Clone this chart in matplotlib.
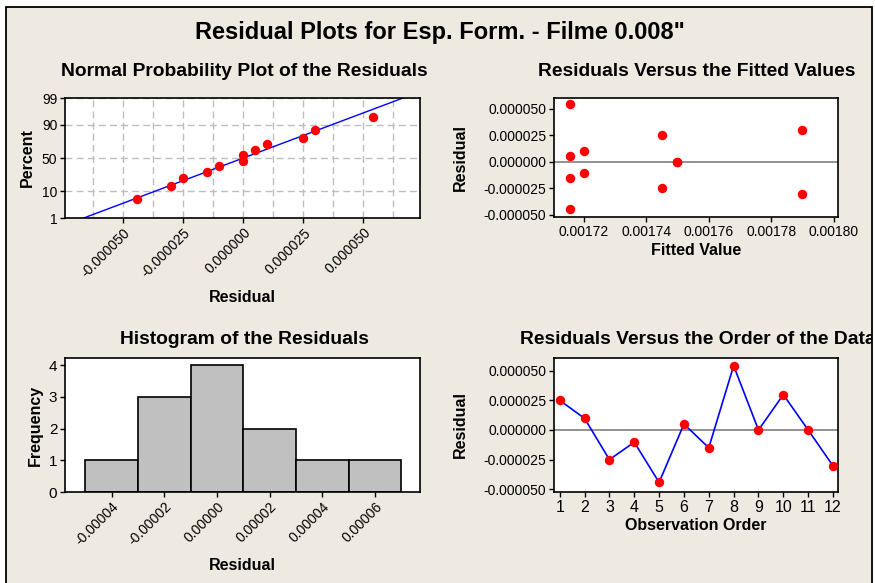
import matplotlib
matplotlib.use("Agg")
import matplotlib.pyplot as plt
import matplotlib.patches as mpatches
from matplotlib.ticker import FormatStrFormatter, MultipleLocator, FixedLocator
from statistics import NormalDist
import numpy as np

plt.rcParams['font.family'] = ['Liberation Sans', 'DejaVu Sans']
plt.rcParams['axes.unicode_minus'] = False

# residuals in observation order
obs_order = [1, 2, 3, 4, 5, 6, 7, 8, 9, 10, 11, 12]
residuals = [0.0000250, 0.0000098, -0.0000250, -0.0000103, -0.0000442, 0.0000050,
             -0.0000150, 0.0000542, 0.0, 0.0000298, 0.0, -0.0000303]
fitted = [0.001745, 0.00172, 0.001745, 0.00172, 0.0017155, 0.0017155,
          0.0017155, 0.0017155, 0.00175, 0.00179, 0.00175, 0.00179]

# normal probability plot
npp_resid = sorted(residuals)
npp_pct = [5.6, 13.7, 21.8, 29.8, 37.9, 46.0, 54.0, 62.1, 70.2, 78.2, 86.3, 94.4]
fit_line_x = [-0.0000665, 0.0000665]
fit_line_pct = [1, 99]
npp_yticks = [1, 10, 50, 90, 99]

# histogram
hist_centers = [-0.00004, -0.00002, 0.0, 0.00002, 0.00004, 0.00006]
hist_counts = [1, 3, 4, 2, 1, 1]
hist_width = 0.00002

W, H = 875, 583
BG = '#EEEAE1'
fig = plt.figure(figsize=(W / 100, H / 100), dpi=100, facecolor='white')

frame = mpatches.Rectangle((6 / W, -0.05), (872 - 6) / W, (H - 7) / H + 0.05,
                           transform=fig.transFigure, facecolor=BG,
                           edgecolor='black', linewidth=1.3, zorder=-10)
fig.patches.append(frame)


def px_axes(x0, x1, y0, y1):
    return fig.add_axes([x0 / W, (H - y1) / H, (x1 - x0) / W, (y1 - y0) / H])


def style(ax):
    for s in ax.spines.values():
        s.set_linewidth(1.2)
    ax.tick_params(direction='out', length=3.5, width=1, labelsize=10, pad=2)


def title(text, xc, yc):
    t = fig.text(xc / W, 1 - yc / H, text, ha='center', va='center',
                 fontsize=13.9, fontweight='bold')
    t.set_clip_path(frame)


def labels(ax, xl, xl_y, yl, yl_x):
    ax.set_xlabel(xl, fontsize=11.5, fontweight='bold')
    ax.set_ylabel(yl, fontsize=11.5, fontweight='bold')
    bb = ax.get_position()
    ax.xaxis.set_label_coords(0.5, ((H - xl_y) / H - bb.y0) / bb.height)
    ax.xaxis.label.set_va('center')
    ax.yaxis.set_label_coords((yl_x / W - bb.x0) / bb.width, 0.5)
    ax.yaxis.label.set_va('center')


nd = NormalDist()
fwd = np.vectorize(lambda p: nd.inv_cdf(min(max(p / 100.0, 1e-9), 1 - 1e-9)), otypes=[float])
inv = np.vectorize(lambda z: nd.cdf(z) * 100.0, otypes=[float])

# --- Normal probability plot
ax1 = px_axes(65, 420, 98, 218)
style(ax1)
ax1.set_yscale('function', functions=(fwd, inv))
ax1.set_ylim(1, 99)
ax1.set_xlim(-0.0000743, 0.0000736)
ax1.yaxis.set_major_locator(FixedLocator(npp_yticks))
ax1.set_yticklabels([str(v) for v in npp_yticks])
ax1.xaxis.set_major_locator(MultipleLocator(0.000025))
ax1.xaxis.set_minor_locator(MultipleLocator(0.0000125))
ax1.xaxis.set_major_formatter(FormatStrFormatter('%.6f'))
ax1.tick_params(axis='x', which='minor', length=0)
ax1.grid(True, which='both', axis='x', color='#BEBEBE', linestyle=(0, (5, 3)), linewidth=1)
ax1.grid(True, which='major', axis='y', color='#BEBEBE', linestyle=(0, (5, 3)), linewidth=1)
ax1.set_axisbelow(True)
for lab in ax1.get_xticklabels():
    lab.set_rotation(45)
    lab.set_ha('right')
    lab.set_va('top')
    lab.set_rotation_mode('anchor')
ax1.plot(fit_line_x, fit_line_pct, color='blue', linewidth=1)
ax1.plot(npp_resid, npp_pct, 'o', color='red', markersize=6.8, markeredgewidth=0)
labels(ax1, 'Residual', 298, 'Percent', 27)
title('Normal Probability Plot of the Residuals', 244, 72)

# --- Residuals vs fitted
ax2 = px_axes(554, 838, 98, 217)
style(ax2)
ax2.axhline(0, color='#808080', linewidth=1.2, zorder=1)
ax2.plot(fitted, residuals, 'o', color='red', markersize=6.8, markeredgewidth=0, zorder=3)
ax2.set_xlim(0.0017105, 0.0018014)
ax2.set_ylim(-0.0000522, 0.0000600)
ax2.set_xticks([0.00172, 0.00174, 0.00176, 0.00178, 0.00180])
ax2.xaxis.set_major_formatter(FormatStrFormatter('%.5f'))
ax2.set_yticks([-0.00005, -0.000025, 0.0, 0.000025, 0.00005])
ax2.yaxis.set_major_formatter(FormatStrFormatter('%.6f'))
labels(ax2, 'Fitted Value', 251, 'Residual', 460)
title('Residuals Versus the Fitted Values', 697, 72)

# --- Histogram
ax3 = px_axes(65, 420, 358, 492)
style(ax3)
ax3.bar(hist_centers, hist_counts, width=hist_width, color='#C0C0C0',
        edgecolor='black', linewidth=1.2)
ax3.set_xlim(-0.0000577, 0.0000771)
ax3.set_ylim(0, 4.23)
ax3.set_xticks(hist_centers)
ax3.xaxis.set_major_formatter(FormatStrFormatter('%.5f'))
ax3.set_yticks([0, 1, 2, 3, 4])
ax3.tick_params(axis='y', labelsize=11)
for lab in ax3.get_xticklabels():
    lab.set_rotation(45)
    lab.set_ha('right')
    lab.set_va('top')
    lab.set_rotation_mode('anchor')
labels(ax3, 'Residual', 565, 'Frequency', 35)
title('Histogram of the Residuals', 244, 340)

# --- Residuals vs order
ax4 = px_axes(554, 838, 358, 492)
style(ax4)
ax4.axhline(0, color='#808080', linewidth=1.2, zorder=1)
ax4.plot(obs_order, residuals, '-', color='blue', linewidth=1.2, zorder=2)
ax4.plot(obs_order, residuals, 'o', color='red', markersize=6.8, markeredgewidth=0, zorder=3)
ax4.set_xlim(0.77, 12.2)
ax4.set_ylim(-0.0000523, 0.0000607)
ax4.set_xticks(obs_order)
ax4.set_yticks([-0.00005, -0.000025, 0.0, 0.000025, 0.00005])
ax4.yaxis.set_major_formatter(FormatStrFormatter('%.6f'))
ax4.tick_params(axis='x', labelsize=11.5)
labels(ax4, 'Observation Order', 525, 'Residual', 460)
title('Residuals Versus the Order of the Data', 698, 340)

t = fig.text(440 / W, 1 - 33 / H, 'Residual Plots for Esp. Form. - Filme 0.008"',
             ha='center', va='center', fontsize=17, fontweight='bold')

fig.savefig('out.png', dpi=100, facecolor='white')
